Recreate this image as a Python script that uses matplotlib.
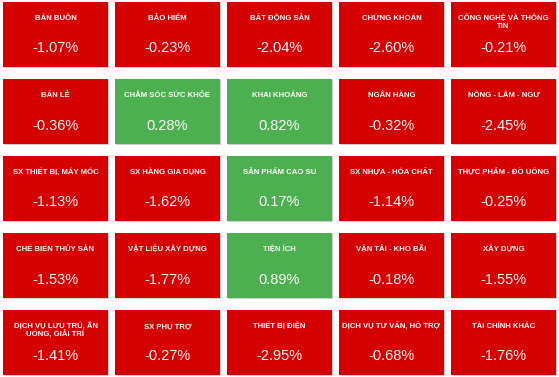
import matplotlib.pyplot as plt
from matplotlib.patches import Rectangle

plt.rcParams['font.family'] = ['Liberation Sans', 'DejaVu Sans']

sectors = [
    'BÁN BUÔN', 'BẢO HIỂM', 'BẤT ĐỘNG SẢN', 'CHỨNG KHOÁN', 'CÔNG NGHỆ VÀ THÔNG\nTIN',
    'BÁN LẺ', 'CHĂM SÓC SỨC KHỎE', 'KHAI KHOÁNG', 'NGÂN HÀNG', 'NÔNG - LÂM - NGƯ',
    'SX THIẾT BỊ, MÁY MÓC', 'SX HÀNG GIA DỤNG', 'SẢN PHẨM CAO SU', 'SX NHỰA - HÓA CHẤT', 'THỰC PHẨM - ĐỒ UỐNG',
    'CHẾ BIẾN THỦY SẢN', 'VẬT LIỆU XÂY DỰNG', 'TIỆN ÍCH', 'VẬN TẢI - KHO BÃI', 'XÂY DỰNG',
    'DỊCH VỤ LƯU TRÚ, ĂN\nUỐNG, GIẢI TRÍ', 'SX PHỤ TRỢ', 'THIẾT BỊ ĐIỆN', 'DỊCH VỤ TƯ VẤN, HỖ TRỢ', 'TÀI CHÍNH KHÁC',
]
changes = [
    -1.07, -0.23, -2.04, -2.60, -0.21,
    -0.36, 0.28, 0.82, -0.32, -2.45,
    -1.13, -1.62, 0.17, -1.14, -0.25,
    -1.53, -1.77, 0.89, -0.18, -1.55,
    -1.41, -0.27, -2.95, -0.68, -1.76,
]

n_cols = 5
red = '#d50000'
green = '#4caf50'

fig = plt.figure(figsize=(5.59, 3.77), dpi=100)
ax = fig.add_axes([0, 0, 1, 1])
ax.set_xlim(0, 559)
ax.set_ylim(377, 0)
ax.axis('off')

x0, y0 = 3, 2
w, h = 105, 65
dx, dy = 112, 77

for i, (name, val) in enumerate(zip(sectors, changes)):
    r, c = divmod(i, n_cols)
    x = x0 + c * dx
    y = y0 + r * dy
    color = green if val > 0 else red
    # soft shadow
    ax.add_patch(Rectangle((x + 1, y + 1), w, h, facecolor='#d0d0d0', edgecolor='none'))
    ax.add_patch(Rectangle((x, y), w, h, facecolor=color, edgecolor='none'))
    two_lines = '\n' in name
    ax.text(x + w / 2, y + (20.5 if two_lines else 16.5), name, ha='center', va='center',
            color='white', fontsize=5.6, fontweight='bold', linespacing=1.1)
    ax.text(x + w / 2, y + 46.5, f'{val:.2f}%', ha='center', va='center',
            color='white', fontsize=10.5)

fig.savefig('out.png', dpi=100)
